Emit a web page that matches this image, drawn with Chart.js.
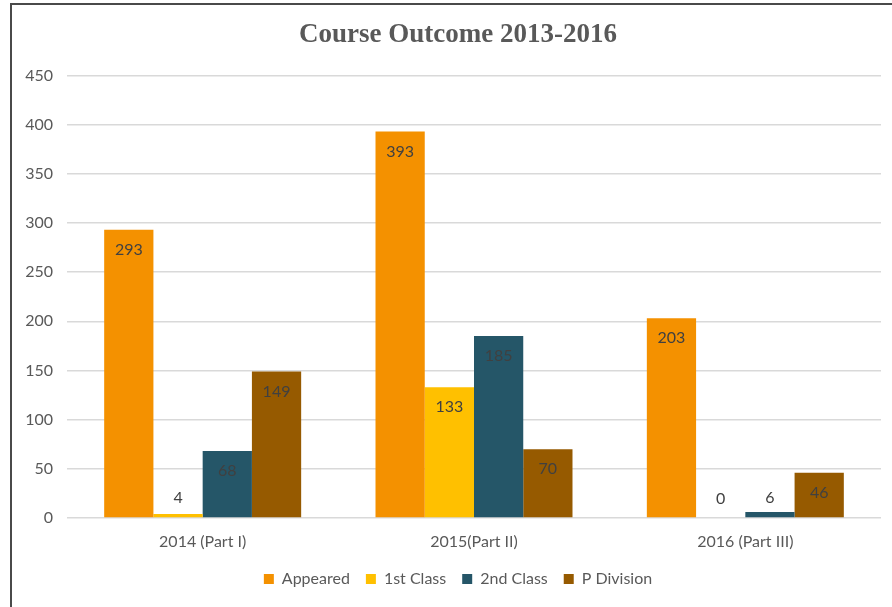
<!DOCTYPE html>
<html>
<head>
<meta charset="utf-8">
<script src="https://cdn.jsdelivr.net/npm/chart.js@4/dist/chart.umd.min.js"></script>
<style>
  html, body { margin: 0; padding: 0; background: #fff; overflow: hidden; }
  #frame {
    position: absolute; left: 10px; top: 3px;
    width: 902px; height: 620px;
    border-left: 2px solid #4a4a4a; border-top: 2px solid #4a4a4a;
  }
  #wrap { position: absolute; left: 0; top: 0; width: 892px; height: 602px; }
</style>
</head>
<body>
<div id="frame"><div id="wrap"><canvas id="outcomeChart"></canvas></div></div>
<script>
// données du graphique
const categories = ['2014 (Part I)', '2015(Part II)', '2016 (Part III)'];
const seriesNames = ['Appeared', '1st Class', '2nd Class', 'P Division'];
const appeared = [293, 393, 203];
const firstClass = [4, 133, 0];
const secondClass = [68, 185, 6];
const pDivision = [149, 70, 46];
const yTicks = [0, 50, 100, 150, 200, 250, 300, 350, 400, 450];

const colors = ['#F49100', '#FFC000', '#255668', '#965A00'];
const fontFamily = 'Lato, "Open Sans", sans-serif';

// étiquettes de valeurs (comme Excel : à l'intérieur, en haut)
const valueLabels = {
    id: 'valueLabels',
    afterDatasetsDraw(chart) {
        const ctx = chart.ctx;
        ctx.save();
        ctx.font = '16px ' + fontFamily;
        ctx.fillStyle = '#404040';
        ctx.textAlign = 'center';
        ctx.textBaseline = 'middle';
        chart.data.datasets.forEach((ds, i) => {
            chart.getDatasetMeta(i).data.forEach((bar, j) => {
                const y = Math.min(bar.y + 20, bar.base - 19);
                ctx.fillText(String(ds.data[j]), bar.x, y);
            });
        });
        ctx.restore();
    }
};

const ctx = document.getElementById('outcomeChart').getContext('2d');
new Chart(ctx, {
    type: 'bar',
    data: {
        labels: categories,
        datasets: [appeared, firstClass, secondClass, pDivision].map((d, i) => ({
            label: seriesNames[i],
            data: d,
            backgroundColor: colors[i],
            categoryPercentage: 0.726,
            barPercentage: 1.0
        }))
    },
    options: {
        responsive: true,
        maintainAspectRatio: false,
        animation: false,
        layout: { padding: { left: 0, right: 0, top: 0, bottom: 10 } },
        plugins: {
            title: {
                display: true,
                text: 'Course Outcome 2013-2016',
                color: '#595959',
                font: { family: '"Liberation Serif", "Times New Roman", serif', size: 27, weight: 'bold' },
                padding: { top: 14, bottom: 24 }
            },
            legend: {
                position: 'bottom',
                labels: {
                    boxWidth: 10, boxHeight: 10,
                    color: '#595959',
                    font: { family: fontFamily, size: 16 },
                    padding: 16
                }
            },
            tooltip: { enabled: false }
        },
        scales: {
            x: {
                grid: { display: false },
                border: { display: false },
                ticks: { color: '#595959', font: { family: fontFamily, size: 16 }, padding: 6 },
                afterFit(scale) { scale.height = 37; }
            },
            y: {
                min: 0, max: 450,
                afterBuildTicks(scale) { scale.ticks = yTicks.map(v => ({ value: v })); },
                grid: { color: '#d9d9d9', lineWidth: 1.5, drawTicks: false },
                border: { display: false },
                ticks: { color: '#595959', font: { family: fontFamily, size: 16 }, padding: 14 },
                afterFit(scale) { scale.width = 55; }
            },
            // axe vide à droite pour garder la marge sans décaler le titre
            yRight: {
                position: 'right',
                display: true,
                grid: { display: false },
                border: { display: false },
                ticks: { display: false },
                afterFit(scale) { scale.width = 23; }
            }
        }
    },
    plugins: [valueLabels]
});
</script>
</body>
</html>
